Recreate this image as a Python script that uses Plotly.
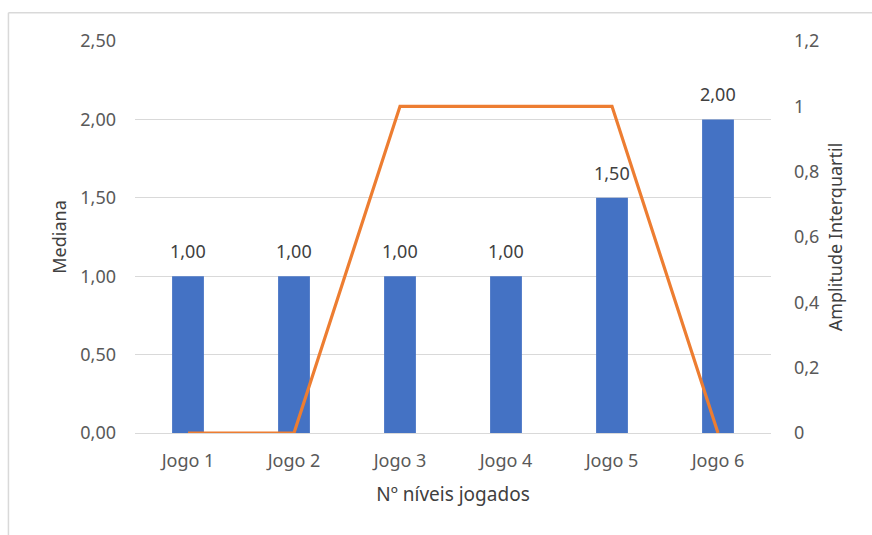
import plotly.graph_objects as go

# Data
jogos = ["Jogo 1", "Jogo 2", "Jogo 3", "Jogo 4", "Jogo 5", "Jogo 6"]
mediana = [1.00, 1.00, 1.00, 1.00, 1.50, 2.00]
amplitude_iq = [0, 0, 1, 1, 1, 0]

left_ticks = [0, 0.5, 1.0, 1.5, 2.0, 2.5]
left_labels = ["0,00", "0,50", "1,00", "1,50", "2,00", "2,50"]
right_ticks = [0, 0.2, 0.4, 0.6, 0.8, 1.0, 1.2]
right_labels = ["0", "0,2", "0,4", "0,6", "0,8", "1", "1,2"]

FONT = "Noto Sans"
GREY = "#595959"
DARK = "#404040"
TICK_SIZE = 18

fig = go.Figure()

fig.add_trace(go.Bar(
    x=jogos, y=mediana,
    marker=dict(color="#4472C4", line=dict(width=0)),
    width=0.3,
    name="Mediana",
))

fig.add_trace(go.Scatter(
    x=jogos, y=amplitude_iq,
    mode="lines",
    line=dict(color="#ED7D31", width=3.2),
    yaxis="y2",
    cliponaxis=False,
    name="Amplitude Interquartil",
))

# value labels above the bars
annotations = [
    dict(x=j, y=v, xref="x", yref="y",
         text=f"{v:.2f}".replace(".", ","),
         showarrow=False, yanchor="middle", yshift=25,
         font=dict(family=FONT, size=TICK_SIZE, color=DARK))
    for j, v in zip(jogos, mediana)
]

fig.update_layout(
    width=872, height=535,
    margin=dict(l=135, r=101, t=41, b=102),
    paper_bgcolor="white",
    plot_bgcolor="white",
    showlegend=False,
    bargap=0.7,
    font=dict(family=FONT, size=TICK_SIZE, color=GREY),
    annotations=annotations,
    xaxis=dict(
        showgrid=False, showline=False, ticks="",
        ticklabelstandoff=15,
        tickfont=dict(family=FONT, size=TICK_SIZE, color=GREY),
        title=dict(text="Nº níveis jogados", standoff=16,
                   font=dict(family=FONT, size=19, color=DARK)),
    ),
    yaxis=dict(
        range=[0, 2.5],
        tickvals=left_ticks, ticktext=left_labels,
        showgrid=True, gridcolor="#D9D9D9", gridwidth=1.3,
        zeroline=True, zerolinecolor="#D9D9D9", zerolinewidth=1.3,
        ticks="", ticklabelstandoff=18,
        tickfont=dict(family=FONT, size=TICK_SIZE, color=GREY),
        title=dict(text="Mediana", standoff=8,
                   font=dict(family=FONT, size=18, color=DARK)),
    ),
    yaxis2=dict(
        range=[0, 1.2], overlaying="y", side="right",
        tickvals=right_ticks, ticktext=right_labels,
        showgrid=False, zeroline=False, ticks="",
        ticklabelstandoff=22,
        tickfont=dict(family=FONT, size=TICK_SIZE, color=GREY),
        title=dict(text="Amplitude Interquartil", standoff=10,
                   font=dict(family=FONT, size=18, color=DARK)),
    ),
    shapes=[
        # chart-area frame (top and left edges)
        dict(type="line", xref="paper", yref="paper",
             x0=-0.199, x1=1.2, y0=1.072, y1=1.072,
             line=dict(color="#D9D9D9", width=1.5)),
        dict(type="line", xref="paper", yref="paper",
             x0=-0.199, x1=-0.199, y0=1.072, y1=-0.4,
             line=dict(color="#D9D9D9", width=1.5)),
    ],
)

fig.write_html("out.html")
